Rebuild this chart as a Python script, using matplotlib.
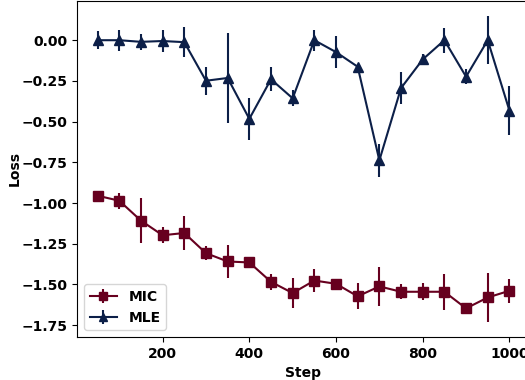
import numpy as np
import matplotlib
matplotlib.use('Agg')
import matplotlib.pyplot as plt

steps = [50, 100, 150, 200, 250, 300, 350, 400, 450, 500,
         550, 600, 650, 700, 750, 800, 850, 900, 950, 1000]

mic_mean = [-0.955, -0.986, -1.108, -1.198, -1.184, -1.308, -1.359, -1.365, -1.484, -1.553,
            -1.476, -1.496, -1.573, -1.512, -1.545, -1.545, -1.545, -1.647, -1.580, -1.539]
mic_err = [0.01, 0.05, 0.14, 0.048, 0.104, 0.043, 0.103, 0.01, 0.048, 0.09,
           0.071, 0.01, 0.08, 0.122, 0.046, 0.051, 0.11, 0.03, 0.149, 0.073]

mle_mean = [0.0, 0.0, -0.01, -0.005, -0.012, -0.249, -0.232, -0.483, -0.24, -0.357,
            0.0, -0.073, -0.163, -0.738, -0.294, -0.118, 0.0, -0.224, 0.0, -0.432]
mle_err = [0.057, 0.065, 0.05, 0.07, 0.094, 0.085, 0.277, 0.13, 0.075, 0.05,
           0.065, 0.1, 0.01, 0.1, 0.097, 0.035, 0.078, 0.045, 0.147, 0.153]

mic_color = '#67001f'
mle_color = '#0c1f48'

fig = plt.figure(figsize=(5.25, 3.8), dpi=100)
# axes run past the right edge of the picture, as in the reference
ax = fig.add_axes([77 / 525, 43 / 380, 453 / 525, 336 / 380])

ax.errorbar(steps, mic_mean, yerr=mic_err, color=mic_color, marker='s',
            markersize=6.5, linewidth=1.5, elinewidth=1.5, label='MIC')
ax.errorbar(steps, mle_mean, yerr=mle_err, color=mle_color, marker='^',
            markersize=6.5, linewidth=1.5, elinewidth=1.5, label='MLE')

ax.set_xticks([200, 400, 600, 800, 1000])
ax.set_yticks(np.arange(-1.75, 0.01, 0.25))
ax.set_xlabel('Step', fontweight='bold')
ax.set_ylabel('Loss', fontweight='bold', labelpad=-0.5)
for lbl in ax.get_xticklabels() + ax.get_yticklabels():
    lbl.set_fontweight('bold')

leg = ax.legend(loc='lower left', prop={'weight': 'bold'}, markerscale=0.85)

fig.savefig('out.png', dpi=100)
